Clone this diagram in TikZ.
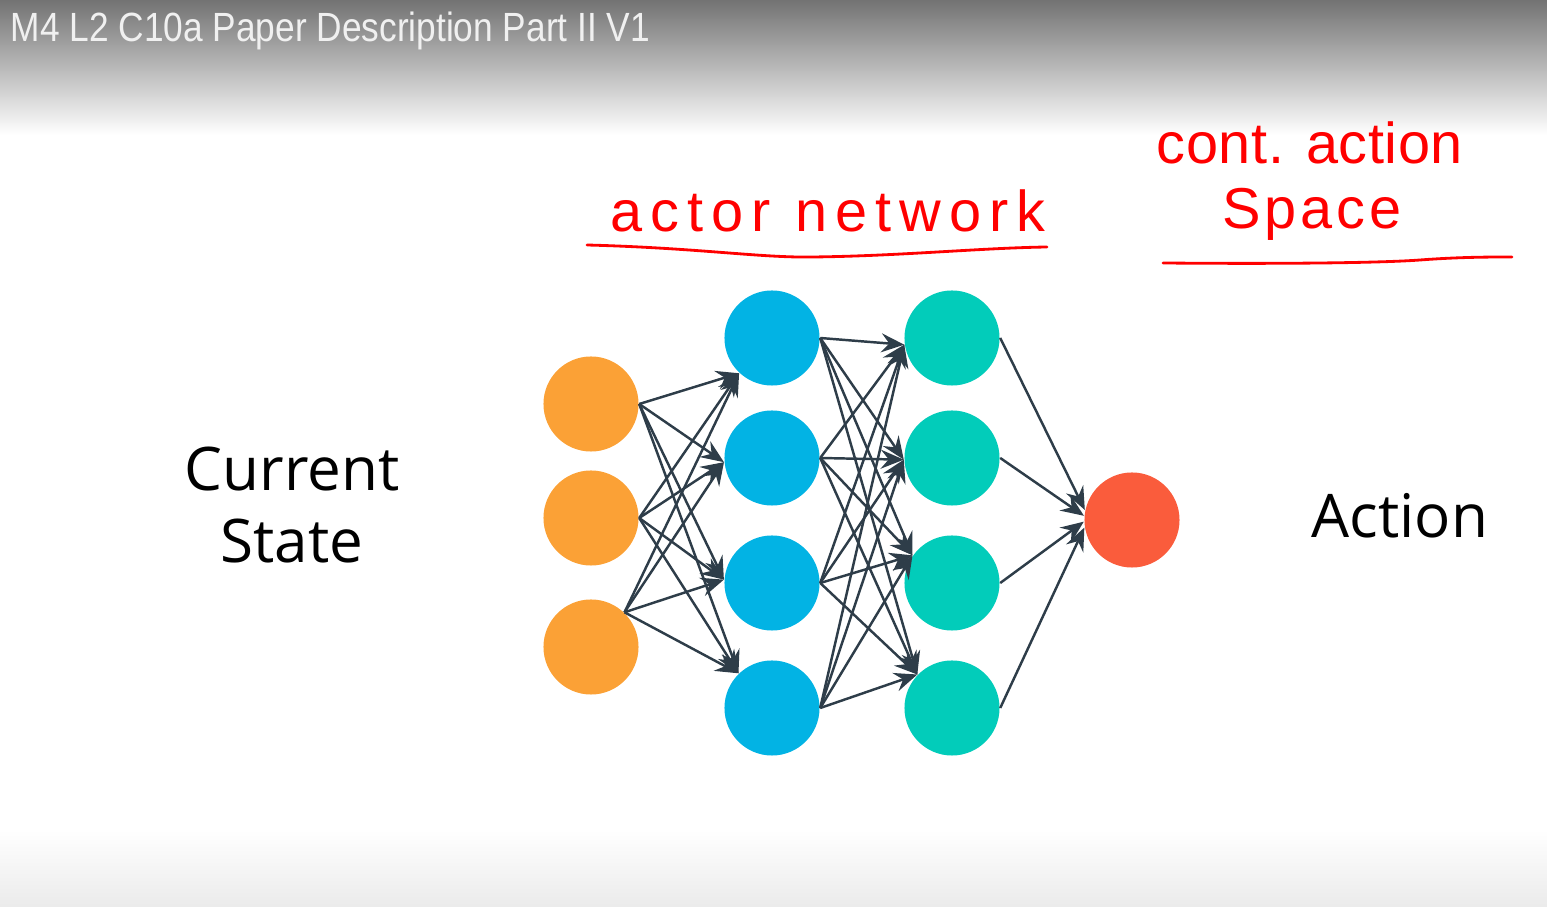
\documentclass[tikz,border=0pt]{standalone}
\usepackage{fontspec}
\setmainfont{Open Sans}
\newfontfamily\titlefont{Liberation Sans}
\newfontfamily\handfont{Liberation Sans}
\usetikzlibrary{arrows.meta}
\definecolor{Inp}{HTML}{FBA136}
\definecolor{Hid}{HTML}{02B3E4}
\definecolor{Hidb}{HTML}{02CCBA}
\definecolor{Outp}{HTML}{FA5C3C}
\definecolor{Slate}{HTML}{2E3D49}
\definecolor{Pen}{HTML}{FF0000}

\begin{document}
\begin{tikzpicture}[x=0.01cm, y=-0.01cm,
    neuron/.style={circle, minimum size=0.95cm, inner sep=0pt},
    conn/.style={-{Stealth[length=2.3mm,width=1.9mm,inset=0.8mm]}, line width=0.7pt, draw=Slate},
    label/.style={font=\fontsize{17.1}{20.4}\selectfont, align=center},
    hand/.style={text=Pen, font=\handfont\fontsize{16.4}{20}\selectfont, anchor=base},
    pen/.style={draw=Pen, line width=0.8pt, line cap=round}
  ]
    \useasboundingbox (0,0) rectangle (1547,907);
    \shade[top color=black!55, bottom color=white] (0,0) rectangle (1547,135);
    \shade[top color=white, bottom color=black!8] (0,830) rectangle (1547,907);
    \node[anchor=base west, inner sep=0pt, text=white!94!black, font=\titlefont\fontsize{11.6}{14}\selectfont] (title) at (10,42)
      {\scalebox{0.865}[1]{M4 L2 C10a Paper Description Part II V1}};

    \node[neuron, fill=Inp] (i1) at (591,404) {};
    \node[neuron, fill=Inp] (i2) at (591,518) {};
    \node[neuron, fill=Inp] (i3) at (591,647) {};

    \node[neuron, fill=Hid] (h1) at (772,338) {};
    \node[neuron, fill=Hid] (h2) at (772,458) {};
    \node[neuron, fill=Hid] (h3) at (772,583) {};
    \node[neuron, fill=Hid] (h4) at (772,708) {};

    \node[neuron, fill=Hidb] (t1) at (952,338) {};
    \node[neuron, fill=Hidb] (t2) at (952,458) {};
    \node[neuron, fill=Hidb] (t3) at (952,583) {};
    \node[neuron, fill=Hidb] (t4) at (952,708) {};

    \node[neuron, fill=Outp] (o) at (1132,520) {};

    \foreach \s/\sa in {i1/east, i2/east, i3/46}
      \foreach \t/\ta in {h1/227, h2/185, h3/176, h4/134}
        \draw[conn] (\s.\sa) -- (\t.\ta);
    \foreach \s in {h1,h2,h3,h4}
      \foreach \t/\ta in {t1/188, t2/182, t3/145, t4/136}
        \draw[conn] (\s.east) -- (\t.\ta);
    \foreach \s/\ta in {t1/168, t2/175, t3/182, t4/189}
      \draw[conn] (\s.east) -- (o.\ta);

    \node[label] (state) at (292,505) {Current\\State};
    \node[label, anchor=base] (action) at (1400,538) {Action};

    \node[hand] (actor) at (828,232) {\addfontfeature{LetterSpace=14}actor network};
    \node[hand] (cont) at (1310,164) {\addfontfeature{LetterSpace=1}cont. action};
    \node[hand] (space) at (1312,229) {\addfontfeature{LetterSpace=7}Space};
    \draw[pen] (587,245) .. controls (700,248) and (760,258) .. (813,257)
      .. controls (900,256) and (980,248) .. (1047,247);
    \draw[pen] (1163,263) .. controls (1280,264) and (1380,263) .. (1420,260)
      .. controls (1460,257) and (1490,257) .. (1512,257);
  \end{tikzpicture}
\end{document}
